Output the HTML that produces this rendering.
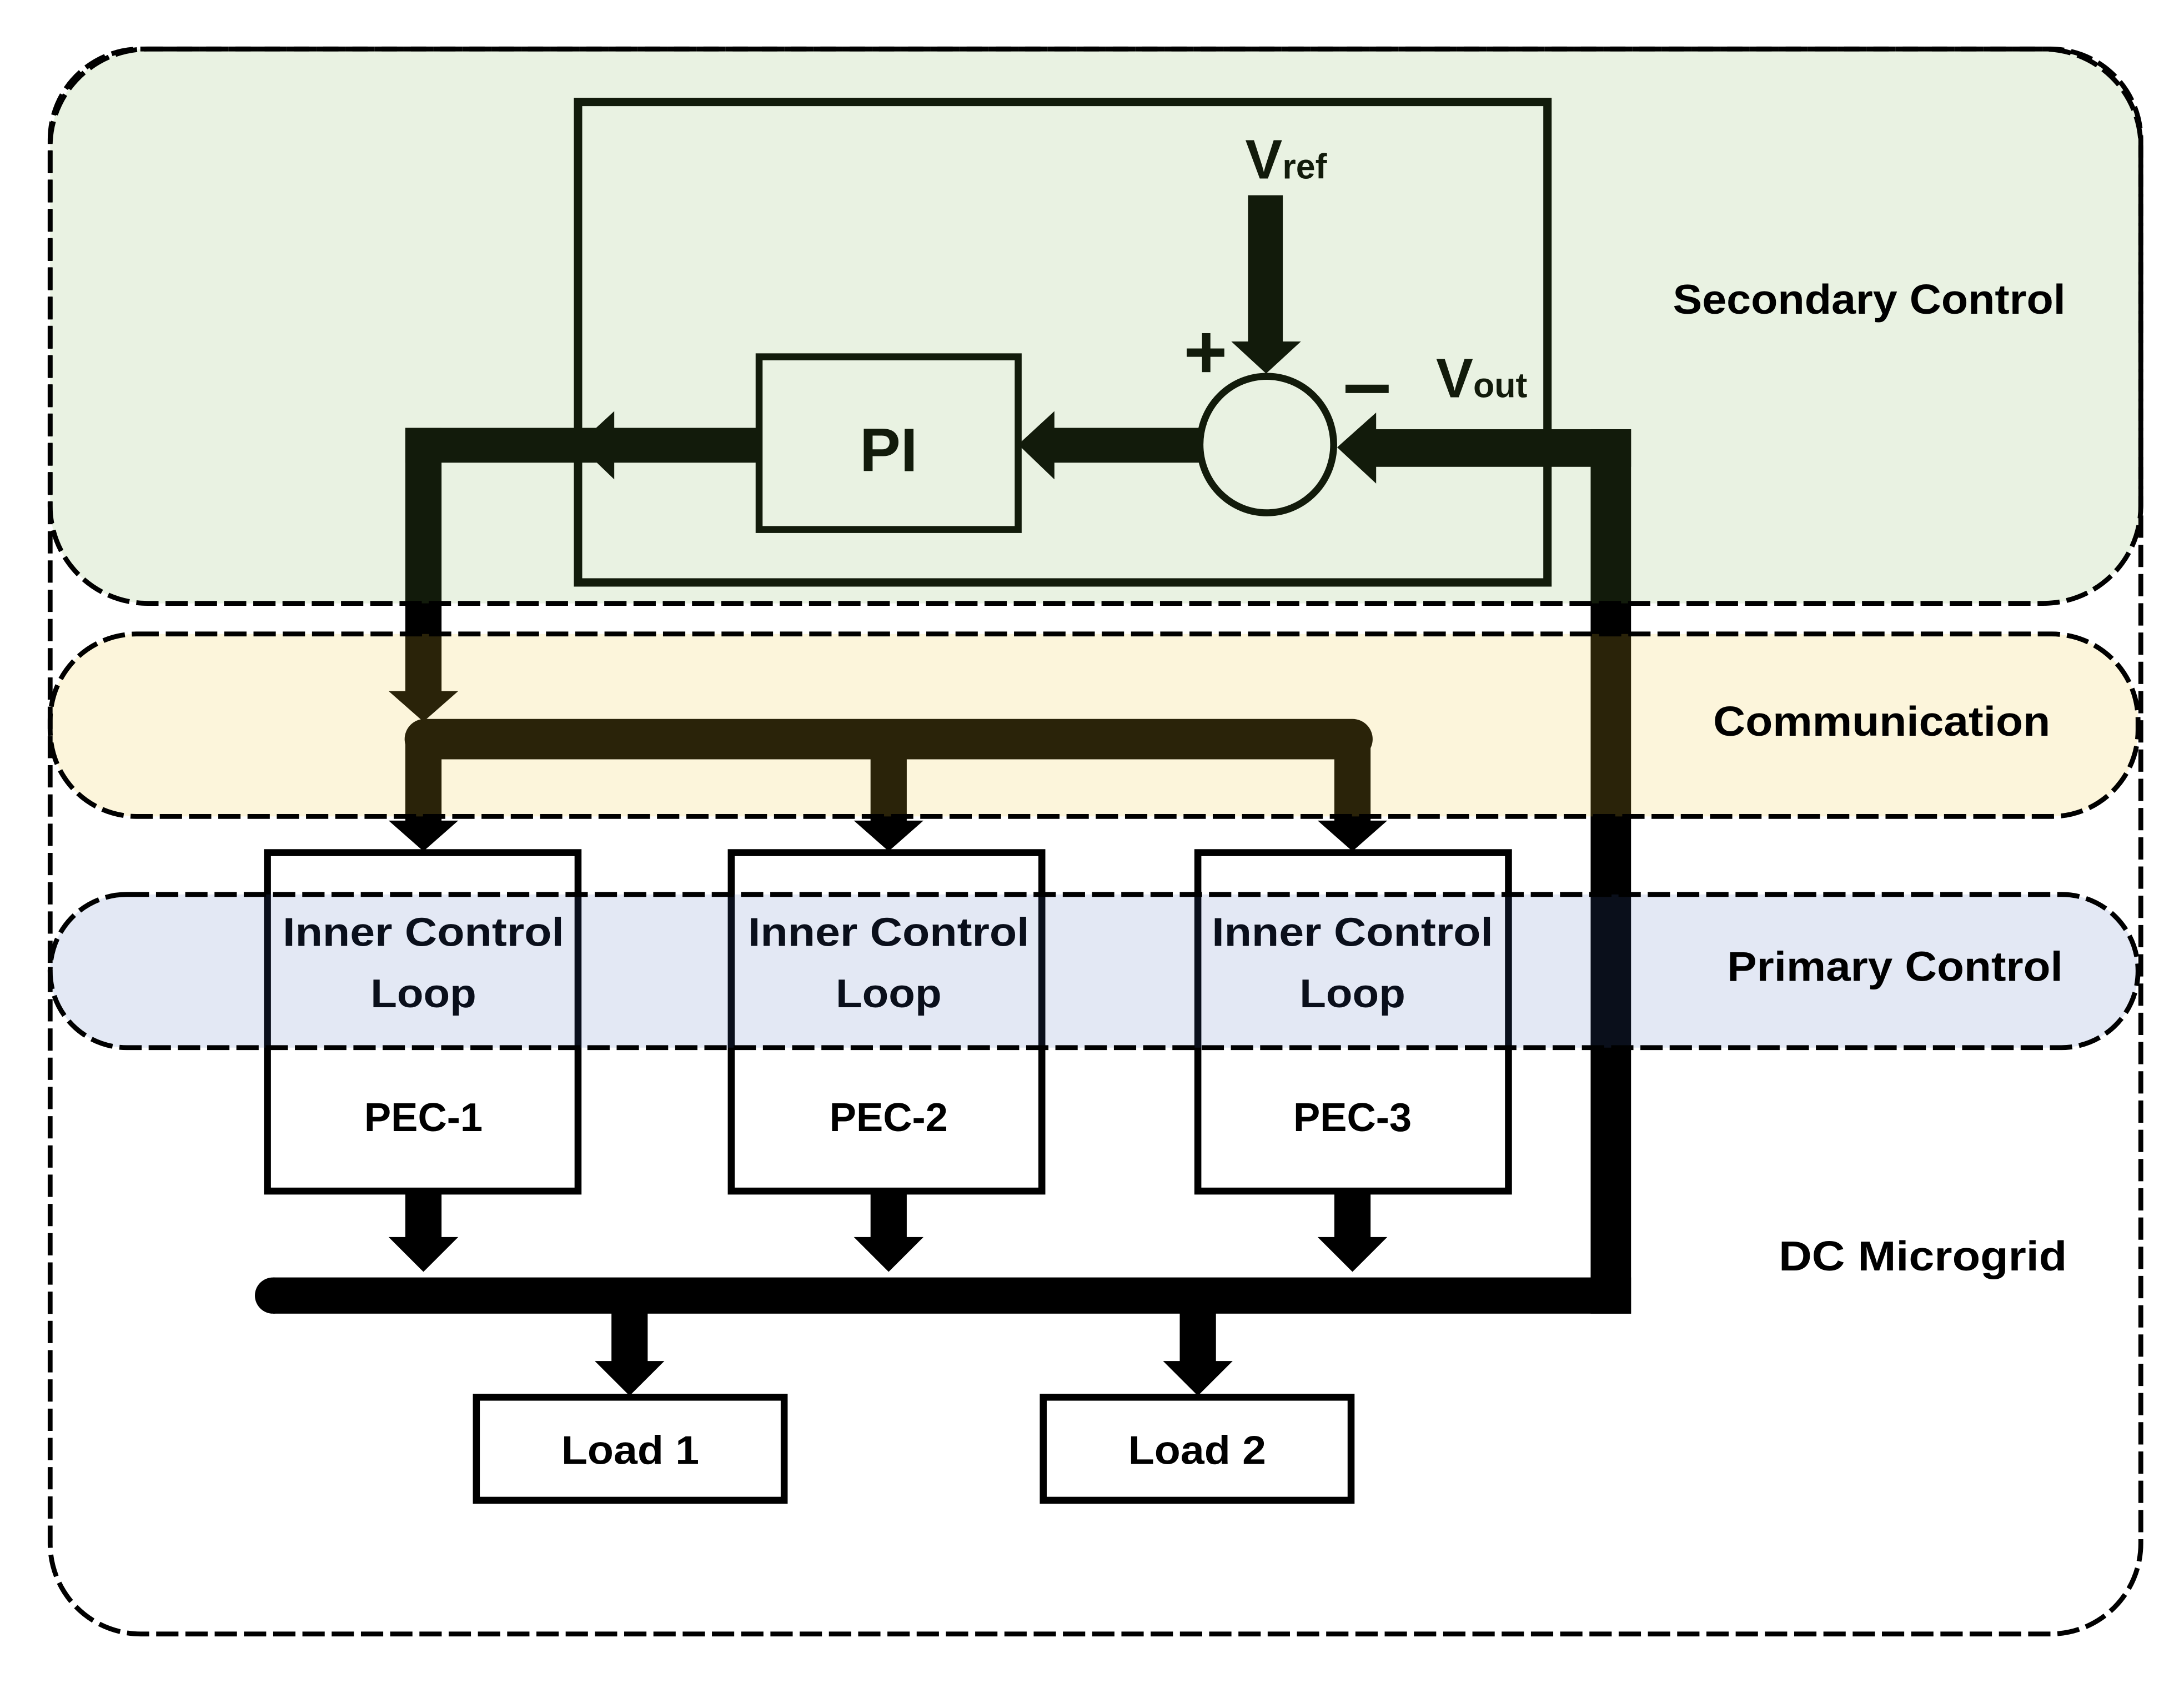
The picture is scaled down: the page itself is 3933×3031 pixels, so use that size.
<!DOCTYPE html>
<html><head><meta charset="utf-8"><style>
html,body{margin:0;padding:0;background:#fff}
svg{display:block}
text{font-family:"Liberation Sans",sans-serif;font-weight:bold}
</style></head><body>
<svg width="3933" height="3031" viewBox="0 0 1568 1208" xmlns="http://www.w3.org/2000/svg">
<rect x="0" y="0" width="1568" height="1208" fill="#fff"/>
<rect x="36" y="35" width="1501" height="1138" rx="65" fill="#fff"/>

<rect x="415" y="73" width="696" height="345" fill="none" stroke="#000" stroke-width="6"/>
<rect x="545" y="256" width="186" height="124" fill="none" stroke="#000" stroke-width="5"/>
<text x="638" y="338" font-size="44" text-anchor="middle">PI</text>
<ellipse cx="909.5" cy="319" rx="48" ry="49" fill="none" stroke="#000" stroke-width="5"/>
<rect x="896" y="140" width="25" height="106" fill="#000"/>
<polygon points="884,245 934,245 909,268" fill="#000"/>
<text x="894" y="128" font-size="40">V<tspan font-size="25">ref</tspan></text>
<rect x="852" y="250" width="27" height="6" fill="#000"/>
<rect x="863" y="239" width="6" height="28" fill="#000"/>
<rect x="966" y="276" width="31" height="6" fill="#000"/>
<text x="1031" y="285" font-size="40">V<tspan font-size="25">out</tspan></text>
<rect x="986" y="308" width="185" height="27" fill="#000"/>
<polygon points="988,296 988,347 960,321" fill="#000"/>
<rect x="1142" y="308" width="29" height="635" fill="#000"/>
<rect x="756" y="307" width="105" height="25" fill="#000"/>
<polygon points="757,295 757,344 731,319" fill="#000"/>
<rect x="439" y="307" width="107" height="25" fill="#000"/>
<polygon points="441,295 441,344 415,319" fill="#000"/>
<rect x="291" y="307" width="150" height="25" fill="#000"/>
<rect x="291" y="307" width="26" height="190" fill="#000"/>
<polygon points="279,496 329,496 304,518" fill="#000"/>
<line x1="305" y1="530.5" x2="971" y2="530.5" stroke="#000" stroke-width="29" stroke-linecap="round"/>
<rect x="291" y="530" width="26" height="60" fill="#000"/>
<rect x="625" y="530" width="26" height="60" fill="#000"/>
<rect x="958" y="530" width="26" height="60" fill="#000"/>
<polygon points="279,589 329,589 304,611" fill="#000"/>
<polygon points="613,589 663,589 638,611" fill="#000"/>
<polygon points="946,589 996,589 971,611" fill="#000"/>
<rect x="192" y="612" width="223" height="243" fill="#fff" stroke="#000" stroke-width="5"/>
<rect x="525" y="612" width="223" height="243" fill="#fff" stroke="#000" stroke-width="5"/>
<rect x="860" y="612" width="223" height="243" fill="#fff" stroke="#000" stroke-width="5"/>
<g font-size="29" text-anchor="middle">
<text x="304" y="679" textLength="202" lengthAdjust="spacingAndGlyphs">Inner Control</text>
<text x="304" y="723" textLength="76" lengthAdjust="spacingAndGlyphs">Loop</text>
<text x="304" y="812" textLength="85" lengthAdjust="spacingAndGlyphs">PEC-1</text>
<text x="638" y="679" textLength="202" lengthAdjust="spacingAndGlyphs">Inner Control</text>
<text x="638" y="723" textLength="76" lengthAdjust="spacingAndGlyphs">Loop</text>
<text x="638" y="812" textLength="85" lengthAdjust="spacingAndGlyphs">PEC-2</text>
<text x="971" y="679" textLength="202" lengthAdjust="spacingAndGlyphs">Inner Control</text>
<text x="971" y="723" textLength="76" lengthAdjust="spacingAndGlyphs">Loop</text>
<text x="971" y="812" textLength="85" lengthAdjust="spacingAndGlyphs">PEC-3</text>
</g>
<rect x="291" y="855" width="26" height="35" fill="#000"/>
<rect x="625" y="855" width="26" height="35" fill="#000"/>
<rect x="958" y="855" width="26" height="35" fill="#000"/>
<polygon points="279,888 329,888 304,913" fill="#000"/>
<polygon points="613,888 663,888 638,913" fill="#000"/>
<polygon points="946,888 996,888 971,913" fill="#000"/>
<circle cx="196" cy="930" r="13" fill="#000"/>
<rect x="196" y="917" width="975" height="26" fill="#000"/>
<rect x="439" y="930" width="26" height="48" fill="#000"/>
<rect x="847" y="930" width="26" height="48" fill="#000"/>
<polygon points="427,977 477,977 452,1002" fill="#000"/>
<polygon points="835,977 885,977 860,1002" fill="#000"/>
<rect x="342" y="1003" width="221" height="74" fill="#fff" stroke="#000" stroke-width="5"/>
<rect x="749" y="1003" width="221" height="74" fill="#fff" stroke="#000" stroke-width="5"/>
<text x="452.5" y="1051" font-size="29" text-anchor="middle" textLength="99" lengthAdjust="spacingAndGlyphs">Load 1</text>
<text x="859.5" y="1051" font-size="29" text-anchor="middle" textLength="99" lengthAdjust="spacingAndGlyphs">Load 2</text>

<rect x="36" y="35" width="1501" height="398" rx="70" fill="rgb(115,170,67)" fill-opacity="0.155"/>
<rect x="36" y="455" width="1499" height="131" rx="62" fill="rgb(240,200,50)" fill-opacity="0.175"/>
<rect x="36" y="642" width="1499" height="110" rx="55" fill="rgb(68,102,182)" fill-opacity="0.15"/>

<g fill="none" stroke="#000" stroke-width="3.5" stroke-dasharray="16 5">
<rect x="36" y="35" width="1501" height="1138" rx="65"/>
<rect x="36" y="35" width="1501" height="398" rx="70"/>
<rect x="36" y="455" width="1499" height="131" rx="62"/>
<rect x="36" y="642" width="1499" height="110" rx="55"/>
</g>

<g font-size="30" text-anchor="middle">
<text x="1342" y="225" textLength="282" lengthAdjust="spacingAndGlyphs">Secondary Control</text>
<text x="1351" y="528" textLength="242" lengthAdjust="spacingAndGlyphs">Communication</text>
<text x="1360.5" y="704" textLength="241" lengthAdjust="spacingAndGlyphs">Primary Control</text>
<text x="1380.5" y="912" textLength="207" lengthAdjust="spacingAndGlyphs">DC  Microgrid</text>
</g>
</svg>
</body></html>
